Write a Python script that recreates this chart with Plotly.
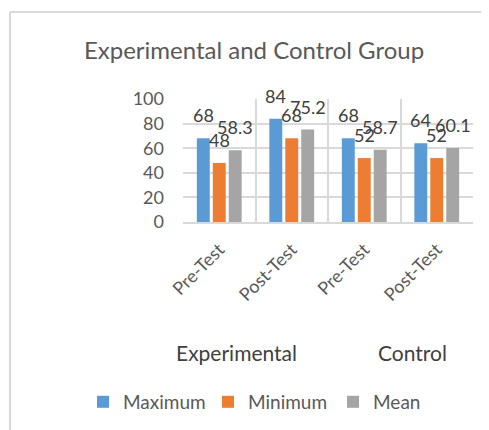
import plotly.graph_objects as go

categories = ["Pre-Test", "Post-Test", "Pre-Test", "Post-Test"]
groups = ["Experimental", "Control"]
maximum = [68, 84, 68, 64]
minimum = [48, 68, 52, 52]
mean = [58.3, 75.2, 58.7, 60.1]
series_names = ["Maximum", "Minimum", "Mean"]
colors = ["#5b9bd5", "#ed7d31", "#a5a5a5"]

FONT = "Lato, 'Open Sans', sans-serif"
BARGAP = 0.34
x = list(range(len(categories)))
all_series = [maximum, minimum, mean]

# page has an 8px body margin; figure is sized/positioned to compensate
W, H = 481, 422
L, T, PW, PH = 175, 91, 290, 123

fig = go.Figure()
for name, vals, col in zip(series_names, all_series, colors):
    fig.add_trace(go.Bar(
        x=x, y=vals, name=name, marker=dict(color=col, line=dict(width=0)),
    ))

# data labels (Excel-style, sitting well above bar tops)
slot = (1 - BARGAP) / len(all_series)
for k, vals in enumerate(all_series):
    for i, v in enumerate(vals):
        fig.add_annotation(x=i + (k - (len(all_series) - 1) / 2) * slot, y=v,
                           xref="x", yref="y", text=str(v), showarrow=False,
                           xanchor="center", yanchor="middle", yshift=23,
                           font=dict(family=FONT, size=18, color="#404040"))

fig.update_layout(
    width=W, height=H,
    margin=dict(l=L, r=W - L - PW, t=T, b=H - T - PH, autoexpand=False),
    paper_bgcolor="white", plot_bgcolor="white",
    barmode="group", bargap=BARGAP, bargroupgap=0.19,
    title=dict(text="Experimental and Control Group", x=246/W, xanchor="center",
               y=1 - 43/H, yanchor="middle", yref="container",
               font=dict(family=FONT, size=24, color="#595959")),
    font=dict(family=FONT, color="#595959"),
    showlegend=True,
    legend=dict(orientation="h", x=-100/PW, xanchor="left", y=-1.463, yanchor="middle",
                font=dict(family=FONT, size=19, color="#595959"),
                itemwidth=30, entrywidth=80, traceorder="normal"),
)
fig.update_xaxes(
    range=[-0.5, 3.5], tickvals=x, ticktext=categories, tickangle=-45,
    tickfont=dict(family=FONT, size=18, color="#595959"),
    showgrid=False, showline=True, linecolor="#d9d9d9", linewidth=2,
    ticks="", automargin=False, ticklabelstandoff=8,
    minor=dict(tickvals=[-0.5, 0.5, 1.5, 2.5, 3.5], showgrid=True,
               gridcolor="#d9d9d9", gridwidth=2),
)
fig.update_yaxes(
    range=[0, 100], dtick=20, showgrid=True, gridcolor="#d9d9d9", gridwidth=2,
    tickfont=dict(family=FONT, size=18, color="#595959"), zeroline=False,
    ticklabelstandoff=18, automargin=False,
)

group_pos = [0.183, 0.79]
for g, px in zip(groups, group_pos):
    fig.add_annotation(text=g, xref="paper", yref="paper", x=px, y=-1.065,
                       showarrow=False, xanchor="center", yanchor="middle",
                       font=dict(family=FONT, size=21, color="#404040"))

# chart area border (Excel style)
top_y = (T + PH - 4) / PH
left_x = (2 - L) / PW
fig.add_shape(type="line", xref="paper", yref="paper",
              x0=left_x, x1=(W - L) / PW, y0=top_y, y1=top_y,
              line=dict(color="#d9d9d9", width=2))
fig.add_shape(type="line", xref="paper", yref="paper",
              x0=left_x, x1=left_x, y0=top_y, y1=(T + PH - H - 10) / PH,
              line=dict(color="#d9d9d9", width=2))

fig.write_html("out.html")
